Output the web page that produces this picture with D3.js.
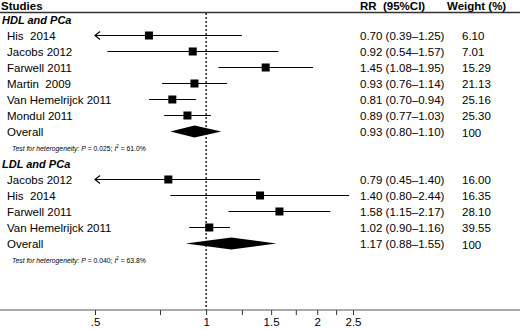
<!DOCTYPE html>
<html>
<head>
<meta charset="utf-8">
<script src="https://cdn.jsdelivr.net/npm/d3@7"></script>
<style>
body { margin: 0; background: #fff; }
text { font-family: "Liberation Sans", Arial, sans-serif; fill: #000; }
</style>
</head>
<body>
<script>
var width = 520, height = 330;

// HDL section
var hdlStudies = ["His  2014", "Jacobs 2012", "Farwell 2011", "Martin  2009", "Van Hemelrijck 2011", "Mondul 2011"];
var hdlRR = [0.70, 0.92, 1.45, 0.93, 0.81, 0.89];
var hdlLo = [0.39, 0.54, 1.08, 0.76, 0.70, 0.77];
var hdlHi = [1.25, 1.57, 1.95, 1.14, 0.94, 1.03];
var hdlWeight = ["6.10", "7.01", "15.29", "21.13", "25.16", "25.30"];
var hdlOverall = [0.93, 0.80, 1.10];
var hdlHet = ["0.025", "61.0%"];

// LDL section
var ldlStudies = ["Jacobs 2012", "His  2014", "Farwell 2011", "Van Hemelrijck 2011"];
var ldlRR = [0.79, 1.40, 1.58, 1.02];
var ldlLo = [0.45, 0.80, 1.15, 0.90];
var ldlHi = [1.40, 2.44, 2.17, 1.16];
var ldlWeight = ["16.00", "16.35", "28.10", "39.55"];
var ldlOverall = [1.17, 0.88, 1.55];
var ldlHet = ["0.040", "63.8%"];

var tickValues = [0.5, 0.75, 1, 1.25, 1.5, 1.75, 2, 2.25, 2.5];
var tickLabels = {0.5: ".5", 1: "1", 1.5: "1.5", 2: "2", 2.5: "2.5"};

var svg = d3.select("body").append("svg")
    .attr("width", width)
    .attr("height", height);

var x = d3.scaleLog().domain([0.5, 2.5]).range([95, 353]);
var rowH = 16;
var axisY = 310;

var fmt = d3.format(".2f");
function rrText(rr, lo, hi) {
    return fmt(rr) + " (" + fmt(lo) + "\u2013" + fmt(hi) + ")";
}

// header
svg.append("text").attr("x", 1).attr("y", 9.5).attr("font-size", 11.5)
    .attr("font-weight", "bold").text("Studies");
svg.append("text").attr("x", 360).attr("y", 9.5).attr("font-size", 11.5)
    .attr("font-weight", "bold").attr("xml:space", "preserve").text("RR  (95%CI)");
svg.append("text").attr("x", 447).attr("y", 9.5).attr("font-size", 11.5)
    .attr("font-weight", "bold").text("Weight (%)");
svg.append("line").attr("x1", 0).attr("x2", width).attr("y1", 12.5).attr("y2", 12.5)
    .attr("stroke", "#333").attr("stroke-width", 1.3);

// reference line at 1
svg.append("line").attr("x1", x(1)).attr("x2", x(1)).attr("y1", 13).attr("y2", axisY)
    .attr("stroke", "#000").attr("stroke-width", 1.3).attr("stroke-dasharray", "2,2");

function section(y0, label, studies, rr, lo, hi, weight, overall, het) {
    svg.append("text").attr("x", 2).attr("y", y0 + 4).attr("font-size", 11)
        .attr("font-weight", "bold").attr("font-style", "italic").text(label);

    var g = svg.append("g").selectAll("g")
        .data(studies)
        .enter().append("g")
        .attr("transform", function (d, i) { return "translate(0," + (y0 + rowH * (i + 1)) + ")"; });

    g.append("text").attr("x", 7).attr("y", 4.5).attr("font-size", 11.5)
        .attr("xml:space", "preserve").text(function (d) { return d; });

    g.append("line")
        .attr("x1", function (d, i) { return x(Math.max(lo[i], 0.5)); })
        .attr("x2", function (d, i) { return x(hi[i]); })
        .attr("y1", 0).attr("y2", 0)
        .attr("stroke", "#000").attr("stroke-width", 1.2);

    // arrows for truncated CIs
    g.filter(function (d, i) { return lo[i] < 0.5; })
        .append("path")
        .attr("d", function () {
            var ax = x(0.5);
            return "M" + (ax + 5) + ",-4L" + ax + ",0L" + (ax + 5) + ",4";
        })
        .attr("fill", "none").attr("stroke", "#000").attr("stroke-width", 1.2);

    g.append("rect")
        .attr("x", function (d, i) { return x(rr[i]) - 4; })
        .attr("y", -4).attr("width", 8).attr("height", 8)
        .attr("fill", "#000");

    g.append("text").attr("x", 360).attr("y", 4.5).attr("font-size", 11.5)
        .text(function (d, i) { return rrText(rr[i], lo[i], hi[i]); });
    g.append("text").attr("x", 462).attr("y", 4.5).attr("font-size", 11.5)
        .text(function (d, i) { return weight[i]; });

    var oy = y0 + rowH * (studies.length + 1);
    svg.append("text").attr("x", 7).attr("y", oy + 4.5).attr("font-size", 11.5).text("Overall");
    svg.append("path")
        .attr("d", "M" + x(overall[1]) + "," + oy + "L" + x(overall[0]) + "," + (oy - 6) +
            "L" + x(overall[2]) + "," + oy + "L" + x(overall[0]) + "," + (oy + 6) + "Z")
        .attr("fill", "#000");
    svg.append("text").attr("x", 360).attr("y", oy + 4.5).attr("font-size", 11.5)
        .text(rrText(overall[0], overall[1], overall[2]));
    svg.append("text").attr("x", 462).attr("y", oy + 5.5).attr("font-size", 11.5).text("100");

    var t = svg.append("text").attr("x", 12).attr("y", oy + rowH + 3).attr("font-size", 6.8)
        .attr("font-style", "italic").attr("fill", "#222");
    t.append("tspan").text("Test for heterogeneity: ");
    t.append("tspan").text("P");
    t.append("tspan").attr("font-style", "normal").text(" = " + het[0] + "; ");
    t.append("tspan").text("I");
    t.append("tspan").attr("font-size", 4.5).attr("dy", -3).attr("font-style", "normal").text("2");
    t.append("tspan").attr("dy", 3).attr("font-style", "normal").text(" = " + het[1]);
}

section(19.5, "HDL and PCa", hdlStudies, hdlRR, hdlLo, hdlHi, hdlWeight, hdlOverall, hdlHet);
section(163.5, "LDL and PCa", ldlStudies, ldlRR, ldlLo, ldlHi, ldlWeight, ldlOverall, ldlHet);

// axis
var axis = d3.axisBottom(x)
    .tickValues(tickValues)
    .tickSize(5)
    .tickFormat(function (d) { return tickLabels[d] || ""; });
var ag = svg.append("g").attr("transform", "translate(0," + axisY + ")").call(axis);
ag.select(".domain").remove();
ag.selectAll("text").attr("font-size", 11.5).attr("font-family", "Liberation Sans, Arial, sans-serif")
    .attr("fill", "#000").attr("dy", "0.7em");
ag.selectAll(".tick line").attr("stroke", "#333");
svg.append("line").attr("x1", 0).attr("x2", width).attr("y1", axisY).attr("y2", axisY)
    .attr("stroke", "#555").attr("stroke-width", 1);
</script>
</body>
</html>
